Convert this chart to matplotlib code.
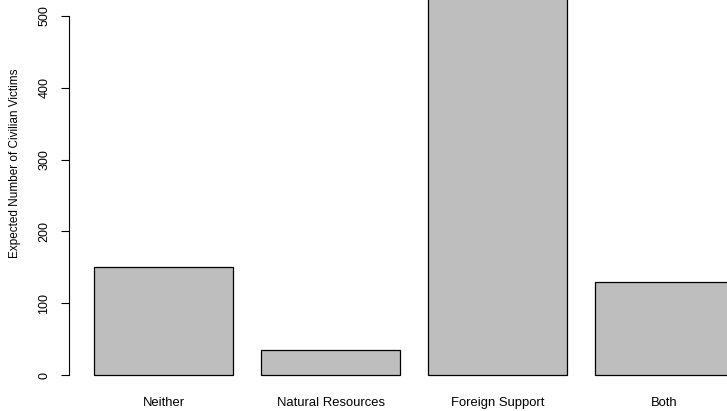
import matplotlib
matplotlib.use("Agg")
import matplotlib.pyplot as plt

categories = ["Neither", "Natural Resources", "Foreign Support", "Both"]
values = [151, 35, 600, 129]
y_ticks = [0, 100, 200, 300, 400, 500]
y_label = "Expected Number of Civilian Victims"

plt.rcParams["font.family"] = ["Liberation Sans", "DejaVu Sans"]

W, H = 727, 411
fig = plt.figure(figsize=(W / 100, H / 100), dpi=100)
ax = fig.add_axes([0, 0, 1, 1])

# barplot-style layout: unit-width bars with 0.2 spacing
width = 1.0
space = 0.2
lefts = [space + i * (width + space) for i in range(len(categories))]
centers = [l + width / 2 for l in lefts]

ax.bar(lefts, values, width=width, align="edge", color="#bebebe",
       edgecolor="black", linewidth=0.9, clip_on=True)

# pixel mapping: x unit = 139 px, x=0 at 66.5 px; y 100 units = 71.8 px, y=0 at 375 px
px_per_x = 139.0
x0_px = 66.5
ax.set_xlim(-x0_px / px_per_x, (W - x0_px) / px_per_x)
px_per_y = 0.718
y0_px = 375.0
ax.set_ylim(-(H - y0_px) / px_per_y, y0_px / px_per_y)

for s in ["top", "right", "bottom"]:
    ax.spines[s].set_visible(False)
ax.spines["left"].set_position(("data", (69.0 - x0_px) / px_per_x))
ax.spines["left"].set_bounds(0, 500)
ax.spines["left"].set_linewidth(0.8)

ax.set_yticks(y_ticks)
ax.set_yticklabels([str(t) for t in y_ticks], rotation=90, va="center",
                   fontsize=9)
ax.tick_params(axis="y", direction="out", length=6, width=0.8, pad=7.5)
ax.set_xticks([])

for c, name in zip(centers, categories):
    ax.text(c, -(402.5 - y0_px) / px_per_y, name, ha="center", va="center",
            fontsize=9.35)

fig.text(15 / W, 1 - 163 / H, y_label, rotation=90, ha="center",
         va="center", fontsize=8.5)

fig.savefig("out.png", dpi=100)
